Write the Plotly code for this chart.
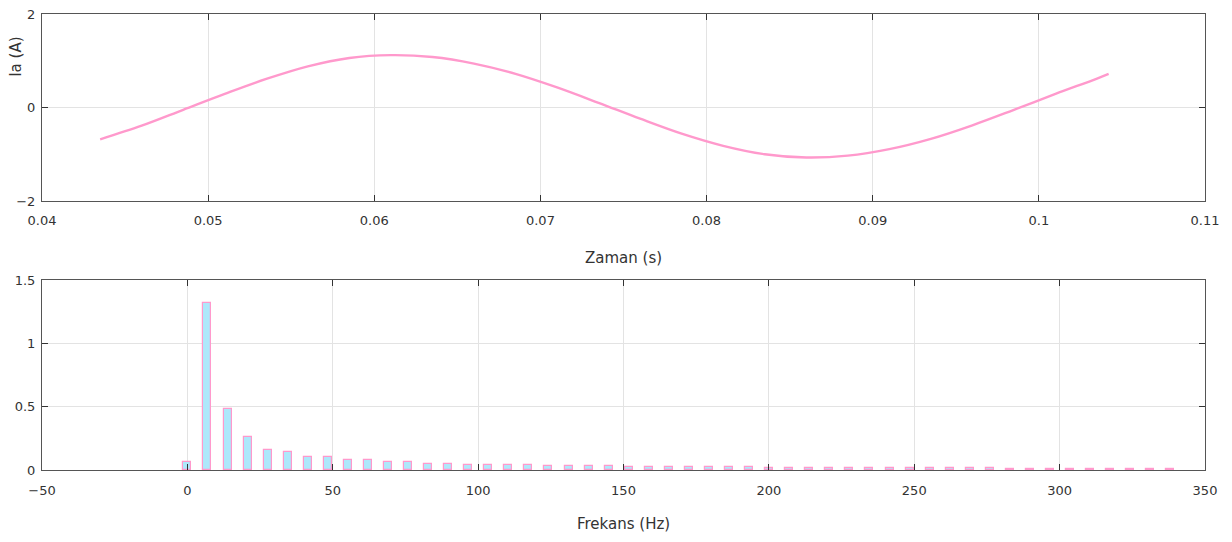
import plotly.graph_objects as go
from plotly.subplots import make_subplots

# --- Time-domain signal ---
time_s = [0.0435, 0.046, 0.0485, 0.051, 0.0535, 0.056, 0.0585, 0.061, 0.0635, 0.066,
          0.0685, 0.071, 0.0735, 0.076, 0.0785, 0.081, 0.0835, 0.086, 0.0885, 0.091,
          0.0935, 0.096, 0.0985, 0.101, 0.1035, 0.1042]
current_a = [-0.68, -0.39, -0.05, 0.29, 0.61, 0.88, 1.06, 1.12, 1.08, 0.94,
             0.72, 0.43, 0.10, -0.24, -0.56, -0.82, -1.00, -1.07, -1.03, -0.89,
             -0.67, -0.38, -0.05, 0.29, 0.62, 0.72]

# --- Spectrum ---
freqs_hz = [0, 6.9, 13.8, 20.7, 27.6, 34.5, 41.4, 48.3, 55.2, 62.1, 69.0, 75.9, 82.8,
            89.7, 96.6, 103.5, 110.4, 117.3, 124.2, 131.1, 138.0, 144.9, 151.8, 158.7,
            165.6, 172.5, 179.4, 186.3, 193.2, 200.1, 207.0, 213.9, 220.8, 227.7, 234.6,
            241.5, 248.4, 255.3, 262.2, 269.1, 276.0, 282.9, 289.8, 296.7, 303.6, 310.5,
            317.4, 324.3, 331.2, 338.1]
amplitude = [0.061, 1.316, 0.479, 0.263, 0.160, 0.140, 0.100, 0.100, 0.076, 0.076,
             0.061, 0.061, 0.047, 0.047, 0.039, 0.039, 0.039, 0.039, 0.032, 0.032,
             0.032, 0.032, 0.024, 0.024, 0.024, 0.024, 0.024, 0.024, 0.024, 0.017,
             0.017, 0.017, 0.017, 0.014, 0.014, 0.014, 0.014, 0.014, 0.014, 0.014,
             0.014, 0.012, 0.012, 0.012, 0.012, 0.012, 0.012, 0.012, 0.012, 0.012]

FONT = "DejaVu Sans"
TXT = "#333333"
PINK = "#ff99cc"
BLUE = "#ade8fb"

fig = make_subplots(rows=2, cols=1, vertical_spacing=0.0)

fig.add_trace(go.Scatter(x=time_s, y=current_a, mode="lines",
                         line=dict(color=PINK, width=2.4, shape="spline"),
                         showlegend=False), row=1, col=1)

fig.add_trace(go.Bar(x=freqs_hz, y=amplitude, width=2.75,
                     marker=dict(color=BLUE, line=dict(color=PINK, width=1.2)),
                     showlegend=False), row=2, col=1)

axis_common = dict(showline=True, linecolor="#555555", linewidth=1, mirror="ticks",
                   ticks="inside", ticklen=6, tickcolor="#333333",
                   showgrid=True, gridcolor="#e3e3e3", gridwidth=1, zeroline=False,
                   automargin=False, ticklabeloverflow="allow",
                   tickfont=dict(family=FONT, size=13, color=TXT))

fig.update_xaxes(**axis_common)
fig.update_yaxes(**axis_common)

fig.update_layout(
    width=1232, height=542,
    margin=dict(l=34, r=35, t=6, b=80),
    plot_bgcolor="white", paper_bgcolor="white",
    bargap=0,
    xaxis=dict(domain=[0, 1], range=[0.04, 0.11], dtick=0.01, tick0=0.04,
               ticklabelstandoff=7),
    yaxis=dict(domain=[0.5899, 1.0], range=[-2, 2], dtick=2, ticklabelstandoff=3),
    xaxis2=dict(domain=[0, 1], range=[-50, 350], dtick=50, tick0=-50,
                ticklabelstandoff=8),
    yaxis2=dict(domain=[0.0, 0.4167], range=[0, 1.5], dtick=0.5, ticklabelstandoff=3),
    annotations=[
        dict(text="Zaman (s)", xref="paper", yref="paper", x=0.5, y=0.4649,
             showarrow=False, xanchor="center", yanchor="middle",
             font=dict(family=FONT, size=15, color=TXT)),
        dict(text="Frekans (Hz)", xref="paper", yref="paper", x=0.5, y=-0.1184,
             showarrow=False, xanchor="center", yanchor="middle",
             font=dict(family=FONT, size=15, color=TXT)),
        dict(text="Ia (A)", xref="paper", yref="paper", x=-0.0225, y=0.9057,
             showarrow=False, xanchor="center", yanchor="middle", textangle=-90,
             font=dict(family=FONT, size=15, color=TXT)),
    ],
)

fig.write_html("out.html")
